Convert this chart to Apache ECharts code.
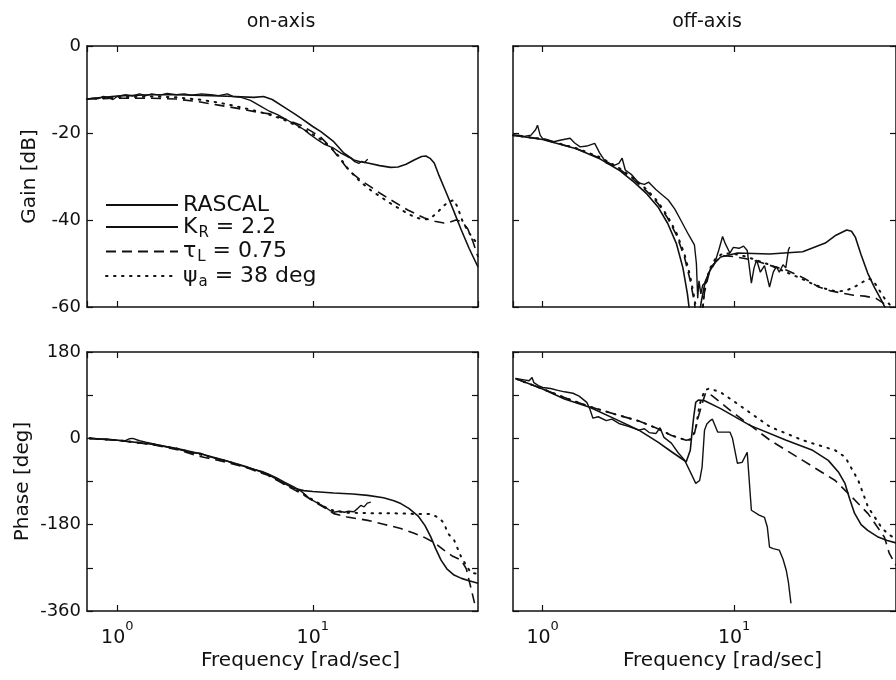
<!DOCTYPE html>
<html><head><meta charset="utf-8">
<script src="https://cdn.jsdelivr.net/npm/echarts@6/dist/echarts.min.js"></script>
<style>html,body{margin:0;padding:0;background:#fff}#c{width:896px;height:680px}</style>
</head><body><div id="c"></div>
<script>
const FONT = '"DejaVu Sans", "Liberation Sans", sans-serif';
const INK = '#111';

// ---- axes / labels ----
const freqRange = [0.7, 70];
const gainRange = [-60, 0];
const gainTickStep = 20;
const phaseRange = [-360, 180];
const phaseTickStep = 90;
const phaseLabelValues = [180, 0, -180, -360];
const xTickExponents = ['0', '1'];
const panelTitles = ['on-axis', 'off-axis'];
const gainAxisName = 'Gain [dB]';
const phaseAxisName = 'Phase [deg]';
const freqAxisName = 'Frequency [rad/sec]';
const seriesKeys = ['RASCAL', 'KR', 'tauL', 'psia'];
const legendLabels = ['{t|RASCAL}', '{t|K}{s|R}{t| = 2.2}', '{t|τ}{s|L}{t| = 0.75}', '{t|ψ}{s|a}{t| = 38 deg}'];

// ---- on-axis gain [freq, dB] ----
const onGainRascal = [[0.7,-12.2],[0.75,-12.0],[0.8,-12.1],[0.85,-11.6],[0.9,-11.8],[0.95,-12.3],[1.0,-11.6],[1.1,-11.2],[1.2,-11.5],[1.3,-11.0],[1.4,-11.4],[1.5,-11.0],[1.65,-11.3],[1.8,-10.9],[2.0,-11.2],[2.2,-11.0],[2.4,-11.3],[2.7,-11.0],[3.0,-11.2],[3.3,-11.4],[3.66,-11.0],[3.9,-11.6],[4.3,-11.8],[4.8,-12.5],[5.4,-13.8],[6.0,-15.0],[6.6,-15.8],[7.1,-16.6],[7.6,-17.3],[8.0,-17.8],[8.5,-18.5],[9.0,-19.2],[9.6,-20.2],[10.6,-21.6],[11.5,-22.6],[12.8,-23.5],[14.0,-24.7],[15.0,-25.4],[15.7,-25.8],[16.4,-26.6],[17.2,-27.0],[17.8,-26.5],[18.4,-26.8],[19.1,-26.0]];
const onGainKR = [[0.7,-12.2],[0.8,-11.9],[1,-11.5],[1.5,-11.2],[2,-11.2],[3,-11.4],[4,-11.6],[5,-11.8],[5.6,-11.6],[6.2,-12.3],[7.1,-14],[8,-15.5],[8.7,-16.6],[10,-18.5],[11,-19.7],[12.8,-22],[14.4,-24.6],[16.2,-26.2],[17.5,-26.6],[19.1,-26.9],[22,-27.5],[25,-27.9],[27.3,-27.8],[30,-27.2],[33,-26.2],[36,-25.4],[37.9,-25.3],[40,-25.9],[41.8,-26.9],[44,-29.5],[47,-32.6],[49.2,-34.7],[53,-38.3],[57.5,-42.3],[63,-46.5],[70,-50.8]];
const onGainTau = [[0.7,-12.2],[1,-12.0],[1.5,-12.0],[2,-12.2],[2.6,-12.8],[3.3,-13.6],[4.2,-14.4],[5.2,-15.2],[6,-15.6],[7,-16.6],[8.7,-18.2],[10,-19.8],[11,-21],[12.4,-23.4],[13.5,-25.5],[15.3,-28.6],[17.5,-30.8],[19.8,-32.4],[22,-33.8],[25.1,-35.4],[30.6,-37.7],[37,-39.5],[42,-40.3],[46.9,-40.7],[50,-40.5],[54,-40.0],[58,-40.4],[62,-42],[66,-45],[70,-48.5]];
const onGainPsi = [[0.7,-12.2],[1,-11.8],[1.5,-11.6],[2,-11.8],[2.6,-12.3],[3.3,-13.0],[4.2,-14.0],[5.2,-15],[6,-15.8],[7,-16.8],[8.7,-18.8],[10,-20.3],[11,-21.5],[12.4,-23.4],[13.5,-25.2],[15.3,-28.5],[17.6,-31.3],[20,-33.3],[22.3,-34.7],[25,-36.2],[27.3,-37.2],[30,-38.3],[33,-39.3],[36,-39.8],[38.9,-39.8],[41,-39.2],[43.6,-38.2],[46,-37],[49.2,-35.9],[52.8,-35.4],[55.2,-37.2],[58,-40],[62,-42.5],[67,-44.6],[70,-45.5]];

// ---- off-axis gain [freq, dB] ----
const offGainRascal = [[0.7,-20.5],[0.75,-20.5],[0.8,-20.8],[0.87,-20.5],[0.92,-19.2],[0.94,-18.2],[0.97,-20.5],[1.0,-21.3],[1.05,-21.5],[1.14,-22.0],[1.25,-21.6],[1.39,-21.2],[1.47,-22.3],[1.57,-23.2],[1.7,-23],[1.87,-22.4],[1.98,-24.5],[2.15,-26.9],[2.35,-27.5],[2.5,-27],[2.6,-25.8],[2.7,-28.5],[2.9,-29.5],[3.18,-31.5],[3.4,-31.8],[3.58,-31.3],[3.9,-33],[4.2,-34.2],[4.53,-35.4],[4.9,-37.5],[5.2,-39.6],[5.5,-41.6],[5.8,-43.5],[6.2,-45.7],[6.35,-50],[6.45,-58],[6.55,-54],[6.7,-57],[6.85,-55],[7.0,-54.5],[7.4,-52],[7.9,-50],[8.3,-47],[8.7,-43.8],[9.0,-45.5],[9.5,-47.6],[9.9,-46.3],[10.6,-46.5],[11.2,-46],[11.7,-47],[12.3,-54.5],[12.7,-51],[13.1,-49.2],[13.7,-52],[14.4,-50.5],[15.3,-55.4],[16,-52],[16.6,-50.7],[17.2,-52],[18,-50.3],[18.6,-51],[19.2,-46.9],[19.5,-46.2]];
const offGainKR = [[0.7,-20.5],[1,-21.5],[1.5,-23.6],[2,-26],[2.5,-28.5],[3,-31.3],[3.5,-34],[4,-37],[4.5,-40.8],[5,-45.5],[5.4,-51],[5.7,-57],[5.85,-61],[6.0,-75],[6.4,-66],[6.72,-59],[7.0,-55],[7.6,-50.7],[8.5,-48.5],[10.4,-47.6],[15.3,-47.8],[22.8,-47.3],[29.9,-45.3],[34,-43.5],[38.7,-42.3],[41,-42.6],[43,-44],[46,-48],[49.8,-52.2],[54,-55.5],[58.5,-58.3],[62,-60.5],[70,-64]];
const offGainTau = [[0.7,-20.5],[1,-21.4],[1.5,-23.6],[2,-25.8],[2.5,-28.2],[3,-30.8],[3.5,-33.4],[4,-36.2],[4.5,-39.6],[5,-43.5],[5.5,-48.5],[5.9,-54],[6.2,-59],[6.4,-63],[6.6,-75],[6.8,-62],[7.0,-56.5],[7.4,-52.2],[8.0,-49.5],[8.7,-48.2],[10,-48.4],[12.6,-49.2],[15,-50.3],[18.7,-51.5],[23,-53.3],[27.6,-55.4],[32,-56.3],[36.6,-56.8],[42,-57.3],[48,-57.5],[55,-58],[62,-59.5],[70,-61]];
const offGainPsi = [[0.7,-20.5],[1,-21.4],[1.5,-23.5],[2,-25.6],[2.5,-28],[3,-30.5],[3.5,-33],[4,-35.8],[4.5,-39.2],[5,-43],[5.5,-47.8],[5.9,-53],[6.2,-58],[6.4,-62],[6.6,-75],[6.8,-62],[7.0,-56],[7.4,-51.5],[8,-48.8],[8.8,-47.6],[10,-47.8],[11.5,-48.4],[13,-49.2],[15.3,-50.3],[18,-51.7],[22,-53.3],[26,-54.8],[30,-55.8],[34,-56.4],[38,-56.3],[42,-55.5],[46,-54.5],[50,-53.5],[53,-53.8],[57,-56],[62,-58.5],[70,-61]];

// ---- on-axis phase [freq, deg] ----
const onPhaseRascal = [[0.72,0],[0.8,-1],[0.9,-2],[1.0,-4],[1.1,-5],[1.15,-1],[1.2,0],[1.3,-5],[1.4,-8],[1.6,-13],[1.8,-18],[2.0,-22],[2.2,-26],[2.4,-30],[2.66,-31],[2.9,-37],[3.2,-42],[3.6,-47],[3.93,-52],[4.4,-58],[5.0,-65],[5.5,-69],[5.9,-74],[6.5,-82],[7.2,-92],[8.0,-101],[8.7,-110],[9.2,-118],[9.7,-127],[10.6,-135],[11.5,-143],[12.2,-150],[12.8,-154],[13.6,-152],[14.5,-154],[15.2,-152],[16.2,-153],[17.0,-146],[17.6,-140],[18.3,-143],[19.0,-135],[19.8,-133]];
const onPhaseKR = [[0.72,0],[1,-4],[1.5,-12],[2,-21],[2.66,-32],[3.5,-45],[4.5,-58],[5.9,-75],[7,-92],[8,-104],[9,-109],[10,-111],[12.8,-114],[16,-116],[19.1,-119],[23,-124],[26,-130],[28.2,-136],[31,-146],[34.6,-162],[37.5,-182],[40.2,-206],[42.5,-230],[45.3,-254],[48.5,-272],[52.8,-285],[57.6,-292],[63,-297],[70,-302]];
const onPhaseTau = [[0.72,0],[1,-4],[1.5,-13],[2,-23],[2.66,-38],[3.3,-46],[4.5,-60],[5.9,-77],[7,-94],[8.7,-115],[10,-130],[11.5,-145],[12.8,-157],[15,-164],[19.1,-171],[23,-179],[28.2,-188],[33,-198],[37,-206],[42,-218],[46.9,-233],[52,-246],[57.5,-254],[61,-272],[66,-330],[68,-352]];
const onPhasePsi = [[0.72,0],[1,-4],[1.5,-12],[2,-21],[2.66,-34],[3.5,-46],[4.5,-59],[5.9,-76],[7,-93],[8.7,-113],[10,-128],[11.5,-143],[12.8,-151],[15,-155],[19.1,-156],[24,-156],[30,-157],[35,-158],[40,-158],[44,-165],[47,-177],[49,-198],[52.8,-212],[57.5,-248],[64.5,-281],[70,-282]];

// ---- off-axis phase [freq, deg] ----
const offPhaseRascal = [[0.72,125],[0.8,122],[0.85,120],[0.88,127],[0.9,116],[0.95,110],[1.0,106],[1.1,104],[1.2,100],[1.3,97],[1.44,94],[1.55,88],[1.7,75],[1.76,62],[1.83,42],[1.95,45],[2.15,37],[2.3,40],[2.5,31],[2.8,25],[3.18,17],[3.4,20],[3.6,12],[3.9,10],[4.1,22],[4.3,2],[4.7,-10],[5.1,-30],[5.5,-45],[5.9,-70],[6.3,-94],[6.6,-88],[6.8,-60],[7.0,17],[7.2,30],[7.5,37],[7.7,40],[8.2,13],[9.5,13],[9.8,0],[10.4,-52],[11,-50],[11.7,-29],[12.3,-150],[13.5,-160],[14.4,-165],[14.9,-185],[15.3,-227],[16,-230],[17.2,-233],[18,-252],[18.7,-275],[19.2,-300],[19.8,-344]];
const offPhaseKR = [[0.727,124],[1.0,103],[1.3,82],[1.76,65],[2.4,40],[3.18,17],[4.0,-8],[4.71,-28],[5.3,-42],[5.62,-49],[5.75,-45],[5.9,-25],[6.0,5],[6.15,45],[6.3,75],[6.5,80],[6.97,79],[8.5,62],[12.1,27],[18.7,-4],[25.7,-25],[31,-46],[35,-70],[37.9,-94],[40,-125],[42.5,-156],[46,-180],[49.8,-192],[56,-205],[63,-213],[70,-218]];
const offPhaseTau = [[0.727,124],[1.0,103],[1.3,85],[1.76,66],[2.4,50],[3.18,36],[4.0,20],[4.71,6],[5.62,-4],[5.9,-2],[6.2,10],[6.5,45],[6.9,80],[7.1,95],[7.6,90],[9.57,58],[15.4,-4],[22.8,-46],[33.7,-88],[41.1,-122],[50,-157],[60.9,-206],[64.6,-240],[70,-265]];
const offPhasePsi = [[0.727,124],[1.0,103],[1.3,85],[1.76,66],[2.4,50],[3.18,36],[4.0,20],[4.71,6],[5.62,-4],[6.0,-2],[6.3,20],[6.6,70],[7.0,100],[7.42,104],[8.5,96],[10.4,72],[15.4,24],[22.8,-4],[33.7,-25],[38,-39],[44.5,-88],[50,-143],[58.6,-185],[63.3,-199],[70,-210]];

// ---- build chart ----
const panelData = [
  [onGainRascal, onGainKR, onGainTau, onGainPsi],
  [offGainRascal, offGainKR, offGainTau, offGainPsi],
  [onPhaseRascal, onPhaseKR, onPhaseTau, onPhasePsi],
  [offPhaseRascal, offPhaseKR, offPhaseTau, offPhasePsi]
];
const lineStyles = {
  RASCAL: {color: INK, width: 1.4, type: 'solid'},
  KR: {color: INK, width: 1.6, type: 'solid'},
  tauL: {color: INK, width: 1.6, type: [10, 6]},
  psia: {color: INK, width: 2, type: [1.5, 6.5], cap: 'round'}
};
const grids = [
  {left: 87, top: 46, width: 391, height: 261},
  {left: 513, top: 46, width: 391, height: 261},
  {left: 87, top: 352, width: 391, height: 259},
  {left: 513, top: 352, width: 391, height: 259}
];
const axisLineStyle = {color: INK, width: 1.5};
const tickStyle = {show: true, inside: true, length: 6, lineStyle: {color: INK, width: 1.2}};
const isPow10 = v => Math.abs(Math.log10(v) - Math.round(Math.log10(v))) < 1e-6;

const xAxis = [], yAxis = [], series = [];
grids.forEach((g, gi) => {
  const bottomRow = gi >= 2, leftCol = gi % 2 === 0;
  const xb = {type: 'log', logBase: 10, min: freqRange[0], max: freqRange[1], gridIndex: gi,
    splitLine: {show: false}, axisLine: {show: true, onZero: false, lineStyle: axisLineStyle},
    axisTick: tickStyle, minorTick: {show: false}};
  xAxis.push(Object.assign({}, xb, {position: 'bottom',
    axisLabel: {show: bottomRow, margin: 9, showMinLabel: false, showMaxLabel: false,
      formatter: v => isPow10(v) ? '{b|10}{s|' + xTickExponents[Math.round(Math.log10(v))] + '}' : '',
      rich: {b: {fontFamily: FONT, fontSize: 19, color: INK, lineHeight: 36},
             s: {fontFamily: FONT, fontSize: 13, color: INK, lineHeight: 15, verticalAlign: 'top'}}},
    name: bottomRow ? freqAxisName : '', nameLocation: 'middle', nameGap: 40,
    nameTextStyle: {fontFamily: FONT, fontSize: 20, color: INK, padding: [0, 0, 0, 36]}}));
  xAxis.push(Object.assign({}, xb, {position: 'top', axisLabel: {show: false}}));
  const yr = bottomRow ? phaseRange : gainRange;
  const step = bottomRow ? phaseTickStep : gainTickStep;
  const yb = {type: 'value', min: yr[0], max: yr[1], interval: step, gridIndex: gi,
    splitLine: {show: false}, axisLine: {show: true, onZero: false, lineStyle: axisLineStyle},
    axisTick: tickStyle};
  yAxis.push(Object.assign({}, yb, {position: 'left',
    axisLabel: {show: leftCol, margin: 6, fontFamily: FONT, fontSize: 18, color: INK,
      formatter: v => bottomRow ? (phaseLabelValues.includes(v) ? String(v) : '') : String(v)},
    name: leftCol ? (bottomRow ? phaseAxisName : gainAxisName) : '', nameLocation: 'middle',
    nameGap: bottomRow ? 54 : 47, nameTextStyle: {fontFamily: FONT, fontSize: 20, color: INK}}));
  yAxis.push(Object.assign({}, yb, {position: 'right', axisLabel: {show: false}}));
  panelData[gi].forEach((data, si) => {
    const key = seriesKeys[si];
    series.push({type: 'line', name: key, data: data, xAxisIndex: 2 * gi, yAxisIndex: 2 * gi,
      symbol: 'none', showSymbol: false, clip: true, color: INK, lineStyle: lineStyles[key],
      animation: false, silent: true});
  });
});

const chart = echarts.init(document.getElementById('c'), null, {renderer: 'canvas'});
chart.setOption({
  backgroundColor: '#fff',
  animation: false,
  grid: grids,
  xAxis: xAxis,
  yAxis: yAxis,
  series: series,
  legend: {data: seriesKeys, orient: 'vertical', left: 100, top: 189, itemWidth: 72, itemHeight: 14,
    itemGap: 0, selectedMode: false, itemStyle: {opacity: 0},
    formatter: n => legendLabels[seriesKeys.indexOf(n)],
    textStyle: {fontFamily: FONT, fontSize: 22, color: INK,
      rich: {t: {fontFamily: FONT, fontSize: 22, color: INK},
             s: {fontFamily: FONT, fontSize: 15, color: INK, verticalAlign: 'bottom', padding: [12, 0, 0, 1]}}}},
  graphic: panelTitles.map((t, i) => ({type: 'text', x: grids[i].left + 194, y: 22,
    style: {text: t, font: '19px ' + FONT, fill: INK, textAlign: 'center', textVerticalAlign: 'middle',
            align: 'center', verticalAlign: 'middle'}}))
});
</script></body></html>
